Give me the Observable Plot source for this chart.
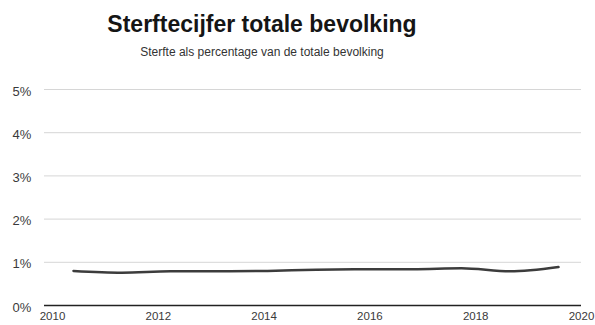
<!DOCTYPE html>
<html>
<head>
<meta charset="utf-8">
<script src="https://cdn.jsdelivr.net/npm/d3@7"></script>
<script src="https://cdn.jsdelivr.net/npm/@observablehq/plot@0.6"></script>
<style>
  html, body { margin: 0; padding: 0; background: #fff; }
  #wrap { position: relative; width: 595px; height: 325px; overflow: hidden; font-family: "Liberation Sans", Arial, Helvetica, sans-serif; }
  #title { position: absolute; left: 0; top: 13px; width: 524px; text-align: center; font-size: 23px; line-height: 23px; font-weight: bold; color: #151515; }
  #subtitle { position: absolute; left: 0; top: 46px; width: 524px; text-align: center; font-size: 12px; line-height: 12px; color: #333; }
  #chart, #overlay { position: absolute; left: 0; top: 62px; }
  #overlay { pointer-events: none; }
</style>
</head>
<body>
<div id="wrap">
  <div id="title">Sterftecijfer totale bevolking</div>
  <div id="subtitle">Sterfte als percentage van de totale bevolking</div>
  <div id="chart"></div>
  <div id="overlay"></div>
</div>
<script>
// Data
const years = [2010, 2011, 2012, 2013, 2014, 2015, 2016, 2017, 2018, 2019, 2020];
const rates = [0.80, 0.76, 0.79, 0.79, 0.80, 0.83, 0.84, 0.84, 0.86, 0.79, 0.89];
const xTicks = [2010, 2012, 2014, 2016, 2018, 2020];
const yTicks = [0, 1, 2, 3, 4, 5];

const data = years.map((y, i) => ({year: y, rate: rates[i]}));

const W = 595, H = 263;
const font = "'Liberation Sans', Arial, Helvetica, sans-serif";

const base = Plot.plot({
  width: W,
  height: H,
  marginTop: 27,
  marginBottom: 20,
  marginLeft: 44,
  marginRight: 14,
  style: {fontFamily: font, background: "white"},
  x: {domain: [2010, 2020], insetLeft: 8},
  y: {domain: [0, 5]},
  marks: [
    Plot.gridY(yTicks.filter(d => d > 0), {stroke: "#d6d6d6", strokeOpacity: 1, strokeWidth: 1}),
    Plot.axisY(yTicks, {
      tickSize: 0, tickPadding: 0, dx: -32, dy: 2, textAnchor: "start",
      tickFormat: d => d + "%", fontSize: 13, fill: "#3a3a3a", label: null
    }),
    Plot.axisX(xTicks, {
      tickSize: 0, tickPadding: 6, tickFormat: d => String(d),
      fontSize: 11.5, fill: "#3a3a3a", label: null
    }),
    Plot.ruleY([0], {stroke: "#222", strokeWidth: 1.6})
  ]
});
document.getElementById("chart").appendChild(base);

const line = Plot.plot({
  width: W,
  height: H,
  marginTop: 27,
  marginBottom: 20,
  marginLeft: 73,
  marginRight: 37,
  style: {fontFamily: font, background: "transparent"},
  x: {domain: [2010, 2020], axis: null},
  y: {domain: [0, 5], axis: null},
  marks: [
    Plot.line(data, {x: "year", y: "rate", stroke: "#3c3c3c", strokeWidth: 2.5, curve: "monotone-x"})
  ]
});
document.getElementById("overlay").appendChild(line);
</script>
</body>
</html>
